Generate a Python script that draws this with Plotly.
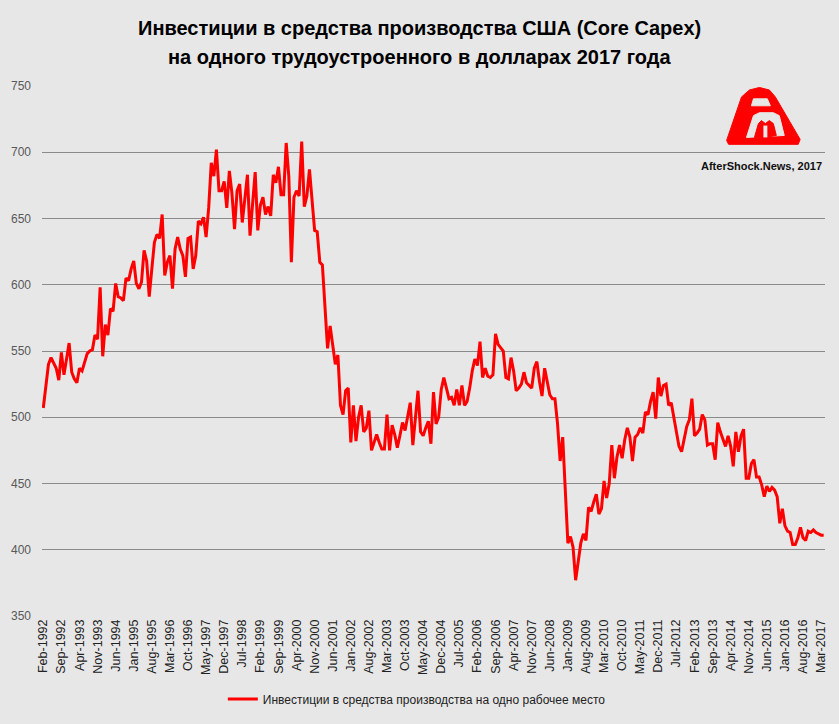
import plotly.graph_objects as go

# ---------------- data ----------------
start_year = 1992
start_month = 2  # February
month_abbr = ["Jan", "Feb", "Mar", "Apr", "May", "Jun",
              "Jul", "Aug", "Sep", "Oct", "Nov", "Dec"]

capex_per_worker = [
    507, 525, 540, 545, 541, 537, 528, 549, 532, 545,
    556, 534, 529, 526, 537, 535, 541, 548, 550, 551,
    562, 559, 598, 546, 570, 562, 582, 580, 601, 591,
    590, 588, 605, 603, 612, 618, 601, 597, 602, 626,
    618, 591, 612, 632, 638, 635, 653, 607, 617, 622,
    597, 627, 636, 627, 622, 606, 635, 636, 612, 622,
    648, 646, 651, 636, 658, 692, 682, 702, 671, 671,
    678, 658, 686, 669, 642, 671, 676, 647, 665, 683,
    637, 665, 685, 641, 660, 666, 653, 659, 652, 683,
    677, 689, 668, 668, 707, 682, 617, 666, 671, 667,
    708, 659, 667, 687, 662, 641, 640, 617, 615, 587,
    552, 569, 554, 540, 547, 509, 502, 520, 522, 481,
    509, 482, 500, 509, 489, 492, 505, 475, 481, 487,
    481, 476, 476, 502, 475, 494, 487, 477, 486, 496,
    490, 500, 511, 479, 500, 520, 489, 486, 492, 497,
    480, 519, 495, 500, 521, 530, 522, 514, 515, 509,
    521, 509, 524, 509, 512, 522, 535, 544, 539, 557,
    530, 537, 531, 530, 532, 563, 555, 552, 550, 530,
    529, 545, 535, 520, 522, 525, 534, 526, 524, 522,
    537, 542, 527, 516, 537, 527, 517, 514, 514, 495,
    467, 485, 445, 405, 410, 402, 377, 392, 405, 412,
    407, 432, 429, 436, 442, 427, 431, 452, 439, 450,
    479, 454, 470, 479, 469, 483, 492, 485, 467, 485,
    487, 492, 488, 504, 502, 512, 519, 499, 530, 516,
    524, 525, 509, 511, 500, 488, 478, 474, 483, 493,
    498, 514, 486, 488, 491, 502, 498, 479, 480, 480,
    468, 496, 489, 484, 478, 486, 478, 463, 489, 474,
    486, 491, 454, 454, 465, 468, 455, 455, 449, 440,
    448, 444, 447, 445, 440, 420, 431, 418, 414, 413,
    404, 404, 409, 417, 409, 407, 414, 413, 415, 413,
    412, 411, 411,
]

tick_labels = [
    "Feb-1992", "Sep-1992", "Apr-1993", "Nov-1993", "Jun-1994", "Jan-1995",
    "Aug-1995", "Mar-1996", "Oct-1996", "May-1997", "Dec-1997", "Jul-1998",
    "Feb-1999", "Sep-1999", "Apr-2000", "Nov-2000", "Jun-2001", "Jan-2002",
    "Aug-2002", "Mar-2003", "Oct-2003", "May-2004", "Dec-2004", "Jul-2005",
    "Feb-2006", "Sep-2006", "Apr-2007", "Nov-2007", "Jun-2008", "Jan-2009",
    "Aug-2009", "Mar-2010", "Oct-2010", "May-2011", "Dec-2011", "Jul-2012",
    "Feb-2013", "Sep-2013", "Apr-2014", "Nov-2014", "Jun-2015", "Jan-2016",
    "Aug-2016", "Mar-2017",
]

y_ticks = [350, 400, 450, 500, 550, 600, 650, 700, 750]

series_name = "Инвестиции в средства производства на одно рабочее место"
title_line1 = "Инвестиции в средства производства США (Core Capex)"
title_line2 = "на одного трудоустроенного в долларах 2017 года"
brand_text = "AfterShock.News, 2017"

# month categories
months = []
for k in range(len(capex_per_worker)):
    m = (start_month - 1 + k) % 12
    yr = start_year + (start_month - 1 + k) // 12
    months.append(f"{month_abbr[m]}-{yr}")

# ---------------- layout geometry ----------------
W, H = 839, 724
ML, MR, MT, MB = 40, 11, 86, 102
PW, PH = W - ML - MR, H - MT - MB


def px(x):
    return (x - ML) / PW


def py(y):
    return (H - MB - y) / PH


BG = "#e7e7e7"
FONT = "Liberation Sans"

fig = go.Figure()
fig.add_trace(go.Scatter(
    x=months, y=capex_per_worker, mode="lines", name=series_name,
    line=dict(color="#ff0000", width=3),
))

# logo shapes (pixel coords -> paper)
def path_from(points, closed=True):
    s = "M " + " L ".join(f"{px(x):.5f},{py(y):.5f}" for x, y in points)
    return s + (" Z" if closed else "")

outer = [(731, 145), (729, 141), (744, 97), (752, 90), (762, 87.5), (772, 90),
         (778, 97), (803, 140), (801, 145)]
slot = [(754, 106), (756, 99), (770, 99), (773, 106)]
arch = [(749, 138), (756, 116), (762, 113), (776, 113), (782, 116), (787, 136)]
m_left = [(757, 138), (761, 124), (764, 121), (768, 124), (768, 138)]
m_right = [(768, 138), (768, 124), (772, 121), (776, 124), (779, 136)]
gap = [(766, 138), (766, 126), (770, 126), (770, 138)]

shapes = [
    dict(type="path", xref="paper", yref="paper", path=path_from(outer),
         fillcolor="#ff0000", line=dict(color="#ff0000", width=1), layer="above"),
    dict(type="path", xref="paper", yref="paper", path=path_from(slot),
         fillcolor=BG, line=dict(color=BG, width=1), layer="above"),
    dict(type="path", xref="paper", yref="paper", path=path_from(arch),
         fillcolor=BG, line=dict(color=BG, width=1), layer="above"),
    dict(type="path", xref="paper", yref="paper", path=path_from(m_left),
         fillcolor="#ff0000", line=dict(color="#ff0000", width=1), layer="above"),
    dict(type="path", xref="paper", yref="paper", path=path_from(m_right),
         fillcolor="#ff0000", line=dict(color="#ff0000", width=1), layer="above"),
    dict(type="path", xref="paper", yref="paper", path=path_from(gap),
         fillcolor=BG, line=dict(color=BG, width=0), layer="above"),
]

annotations = [
    dict(text=f"<b>{title_line1}</b>", x=px(420), y=py(27), xref="paper", yref="paper",
         showarrow=False, xanchor="center", yanchor="middle",
         font=dict(family=FONT, size=20, color="#000000")),
    dict(text=f"<b>{title_line2}</b>", x=px(420), y=py(57), xref="paper", yref="paper",
         showarrow=False, xanchor="center", yanchor="middle",
         font=dict(family=FONT, size=20, color="#000000")),
    dict(text=f"<b>{brand_text}</b>", x=px(764), y=py(167), xref="paper", yref="paper",
         showarrow=False, xanchor="center", yanchor="middle",
         font=dict(family=FONT, size=11, color="#111111")),
]

fig.update_layout(
    width=W, height=H,
    margin=dict(l=ML, r=MR, t=MT, b=MB, pad=0),
    paper_bgcolor=BG, plot_bgcolor=BG,
    showlegend=True,
    legend=dict(orientation="h", x=px(222), xanchor="left", y=py(706), yanchor="middle",
                font=dict(family=FONT, size=12, color="#222222"),
                bgcolor="rgba(0,0,0,0)"),
    shapes=shapes,
    annotations=annotations,
    font=dict(family=FONT),
)

fig.update_xaxes(
    type="category", tickmode="array", tickvals=tick_labels, ticktext=tick_labels,
    tickangle=-90, showgrid=False, zeroline=False, showline=False, ticks="",
    range=[-0.5, len(months) - 0.5],
    tickfont=dict(family=FONT, size=12.5, color="#222222"),
)
fig.update_yaxes(
    range=[350, 750], tickmode="array", tickvals=y_ticks,
    showgrid=True, gridcolor="#8a8a8a", gridwidth=1, zeroline=False, showline=False,
    ticks="", ticklabelstandoff=10,
    tickfont=dict(family=FONT, size=12, color="#595959"),
)

fig.write_html("out.html")
